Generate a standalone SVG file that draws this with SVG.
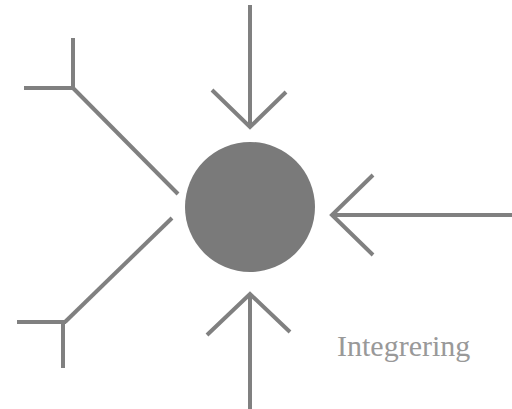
<svg xmlns="http://www.w3.org/2000/svg" width="512" height="409" viewBox="0 0 512 409">
<style>
.ln{stroke:#808080;stroke-width:4;fill:none;stroke-linecap:butt;stroke-linejoin:miter}
.lbl{font-family:"Liberation Serif",serif;font-size:30px;fill:#999}
</style>
<rect width="512" height="409" fill="#fff"/>
<g id="node-center">
<circle cx="250" cy="207" r="65" fill="#7a7a7a"/>
</g>
<g id="connectors">
<g id="arrow-top">
<line class="ln" x1="250" y1="5" x2="250" y2="128"/>
<polyline class="ln" points="212,90 250,127 286,92"/>
</g>
<g id="arrow-right">
<line class="ln" x1="512" y1="215" x2="332" y2="215"/>
<polyline class="ln" points="373,175 332,215 373,255"/>
</g>
<g id="arrow-bottom">
<line class="ln" x1="250" y1="409" x2="250" y2="294"/>
<polyline class="ln" points="207,335 250,294 290,332"/>
</g>
<g id="fork-topleft">
<line class="ln" x1="178" y1="194" x2="73" y2="88"/>
<line class="ln" x1="24" y1="88" x2="73" y2="88"/>
<line class="ln" x1="73" y1="38" x2="73" y2="88"/>
</g>
<g id="fork-bottomleft">
<line class="ln" x1="172" y1="218" x2="65" y2="322"/>
<line class="ln" x1="17" y1="322" x2="66" y2="322"/>
<line class="ln" x1="63" y1="322" x2="63" y2="368"/>
</g>
</g>
<g id="label">
<text class="lbl" x="337" y="356">Integrering</text>
</g>
</svg>
